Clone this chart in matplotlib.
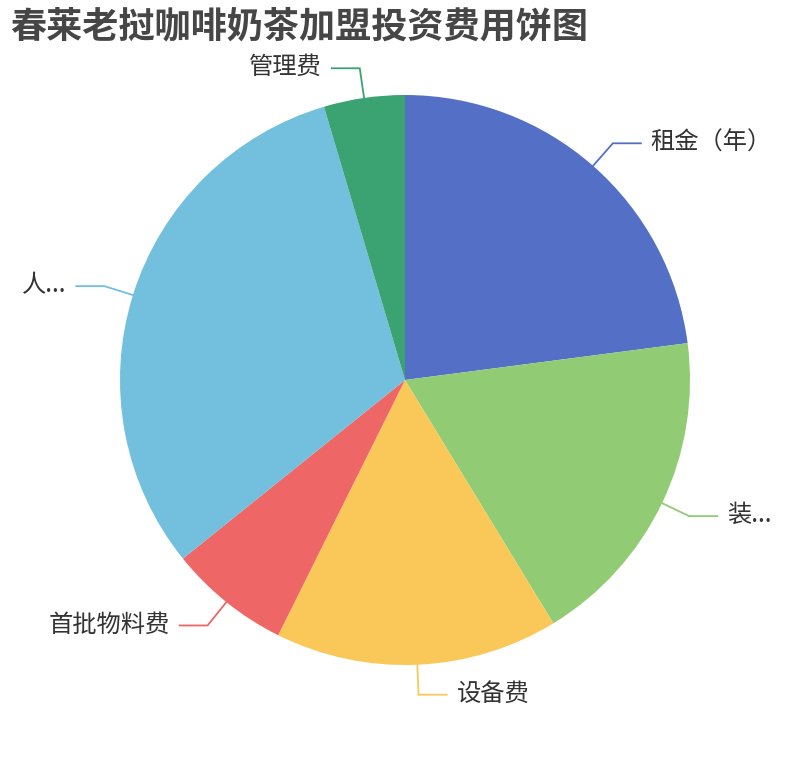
import matplotlib
matplotlib.use("Agg")
import matplotlib.pyplot as plt
import numpy as np

plt.rcParams['font.family'] = ['Noto Sans CJK SC', 'DejaVu Sans']

title = "春莱老挝咖啡奶茶加盟投资费用饼图"
labels = ['租金（年）', '装...', '设备费', '首批物料费', '人...', '管理费']
values = [5.0, 4.0, 3.5, 1.5, 6.8, 1.0]
colors = ['#5470c6', '#91cc75', '#fac858', '#ee6666', '#73c0de', '#3ba272']

W, H = 810, 760
fig = plt.figure(figsize=(W / 100, H / 100), dpi=100)
ax = fig.add_axes([0, 0, 1, 1])

cx, cy, r = 405, H - 380, 285
wedges, _ = ax.pie(values, colors=colors, startangle=90, counterclock=False,
                   center=(cx, cy), radius=r, wedgeprops=dict(linewidth=0),
                   frame=True)
ax.set_xlim(0, W)
ax.set_ylim(0, H)
ax.set_aspect('equal')
ax.axis('off')

L1, L2, gap = 30, 28, 10
for w, lab, col in zip(wedges, labels, colors):
    mid = np.deg2rad((w.theta1 + w.theta2) / 2)
    c, s = np.cos(mid), np.sin(mid)
    p0 = (cx + r * c, cy + r * s)
    p1 = (cx + (r + L1) * c, cy + (r + L1) * s)
    d = 1 if c >= 0 else -1
    p2 = (p1[0] + d * L2, p1[1])
    ax.plot([p0[0], p1[0], p2[0]], [p0[1], p1[1], p2[1]], color=col, lw=1.3,
            solid_joinstyle='miter')
    ax.text(p2[0] + d * gap, p2[1] + 1, lab, ha='left' if d > 0 else 'right',
            va='center', fontsize=17.5, color='#333333')

fig.text(10 / W, 1 - 8 / H, title, ha='left', va='top', fontsize=26,
         fontweight='bold', color='#464646')

fig.savefig('out.png', dpi=100, facecolor='white')
